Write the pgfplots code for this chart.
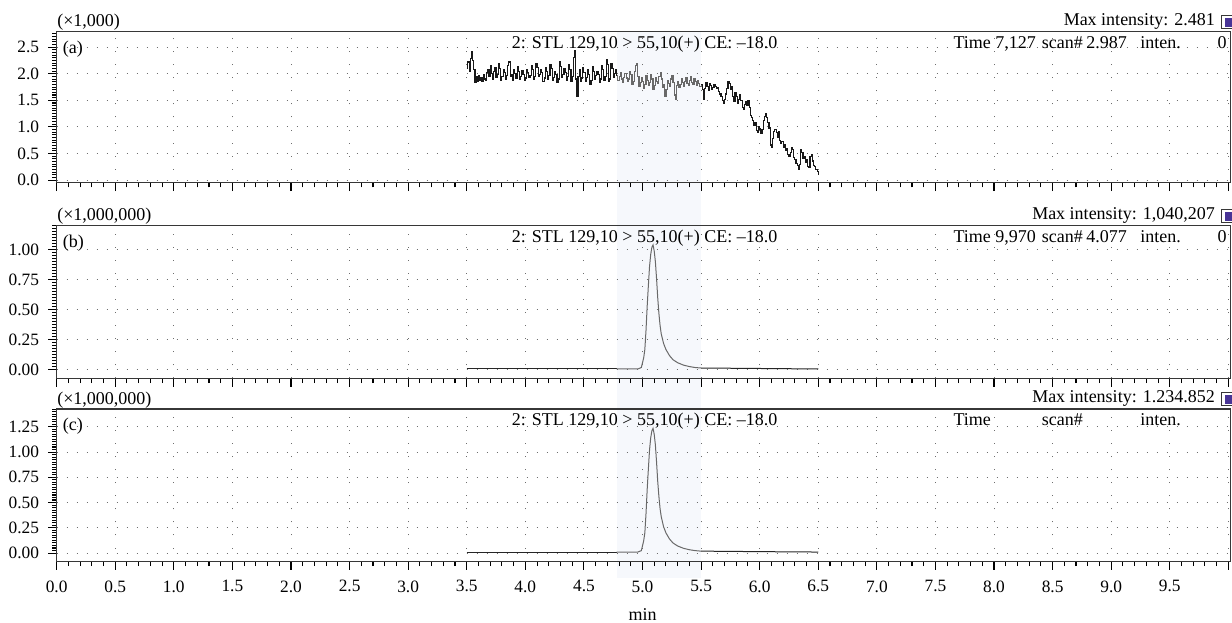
\documentclass[border=0pt]{standalone}
\usepackage{pgfplots}
\pgfplotsset{compat=1.18}
\usepackage{fontspec}
\setmainfont{Liberation Serif}

\definecolor{bandcol}{RGB}{246,248,252}
\definecolor{gridcol}{RGB}{110,110,110}
\definecolor{tracegray}{RGB}{105,105,105}
\definecolor{iconcol}{RGB}{72,52,150}
\definecolor{framecol}{RGB}{55,55,55}

\pgfplotsset{
  chrom/.style={
    scale only axis,
    width=880.5pt,
    anchor=north west,
    xmin=0, xmax=10.02,
    xtick={0,0.5,...,10},
    minor x tick num=4,
    tick align=outside,
    tick pos=left,
    major tick length=6.2pt,
    minor tick length=3.5pt,
    every tick/.style={black, line width=0.8pt},
    axis line style={framecol, line width=0.8pt},
    grid=major,
    x grid style={gridcol, line width=0.7pt, dash pattern=on 0.7pt off 9.1pt},
    y grid style={gridcol, line width=0.7pt, dash pattern=on 0.7pt off 6.8pt},
    tick label style={font=\fontsize{13}{15}\selectfont},
    xticklabel style={yshift=-4.5pt},
    yticklabel style={xshift=-3.5pt},
    xticklabels={},
    /pgf/number format/assume math mode=true,
  },
  tr/.style={black!90, line width=0.85pt},
  trg/.style={tracegray, line width=0.85pt},
  pk/.style={black!85, line width=0.75pt},
  pkg/.style={tracegray, line width=0.75pt},
}

\begin{document}
\begin{tikzpicture}
\useasboundingbox (0,0) rectangle (924pt,-466.5pt);

% highlighted integration window, behind all three panels
\begin{scope}[x=0.75pt, y=-0.75pt]
\fill[bandcol] (616.9,31.7) rectangle (701.3,578);
\end{scope}

% ---------- (a)
\begin{axis}[chrom,
  at={(42.5pt,-23.8pt)}, height=113.25pt,
  ymin=-0.05, ymax=2.79,
  ytick={0,0.5,...,2.5},
  minor ytick={0,0.05,...,2.75},
  yticklabel style={/pgf/number format/.cd, fixed, fixed zerofill, precision=1},
]
\addplot[tr, const plot] table {
x y
3.50 2.10
3.51 2.22
3.52 2.05
3.53 2.28
3.54 2.42
3.55 2.25
3.56 2.08
3.57 1.83
3.58 1.95
3.59 1.86
3.60 1.96
3.61 1.88
3.62 1.92
3.63 1.85
3.64 1.98
3.65 1.90
3.66 1.87
3.67 2.02
3.68 2.08
3.69 1.94
3.70 2.15
3.71 2.00
3.72 1.90
3.73 2.05
3.74 2.12
3.75 1.93
3.76 1.98
3.77 2.20
3.78 2.10
3.79 1.88
3.80 1.95
3.81 2.08
3.82 2.02
3.83 1.90
3.84 1.96
3.85 2.15
3.86 2.22
3.87 1.95
3.88 1.98
3.89 1.88
3.90 2.08
3.91 2.00
3.92 1.92
3.93 2.14
3.94 2.05
3.95 1.90
3.96 1.94
3.97 2.06
3.98 1.98
3.99 1.87
4.00 1.92
4.01 2.08
4.02 2.02
4.03 1.93
4.04 1.97
4.05 2.16
4.06 2.08
4.07 1.90
4.08 1.95
4.09 2.20
4.10 2.12
4.11 1.94
4.12 1.99
4.13 2.07
4.14 2.02
4.15 1.86
4.16 1.92
4.17 2.12
4.18 2.05
4.19 1.90
4.20 1.96
4.21 2.18
4.22 2.10
4.23 1.88
4.24 1.93
4.25 2.05
4.26 1.98
4.27 1.84
4.28 1.90
4.29 2.22
4.30 2.14
4.31 1.93
4.32 1.98
4.33 2.10
4.34 2.03
4.35 1.88
4.36 1.95
4.37 2.18
4.38 2.08
4.39 1.85
4.40 1.95
4.41 2.30
4.42 2.43
4.43 1.90
4.44 1.58
4.45 1.95
4.46 2.08
4.47 1.86
4.48 1.92
4.49 2.12
4.50 2.02
4.51 1.86
4.52 1.93
4.53 2.08
4.54 1.98
4.55 1.80
4.56 1.88
4.57 2.14
4.58 2.05
4.59 1.90
4.60 1.96
4.61 2.04
4.62 1.98
4.63 1.84
4.64 1.90
4.65 2.16
4.66 2.08
4.67 1.88
4.68 1.95
4.69 2.26
4.70 2.18
4.71 1.85
4.72 1.90
4.73 2.20
4.74 2.10
4.75 1.93
4.76 2.00
4.77 2.08
4.78 1.96
};
\addplot[trg, const plot] table {
x y
4.78 1.96
4.79 1.88
4.80 1.95
4.81 2.02
4.82 1.90
4.83 1.84
4.84 1.93
4.85 2.00
4.86 1.92
4.87 1.85
4.88 1.90
4.89 2.04
4.90 1.98
4.91 1.80
4.92 1.86
4.93 2.05
4.94 2.15
4.95 2.20
4.96 1.95
4.97 1.76
4.98 1.84
4.99 1.92
5.00 1.86
5.01 1.72
5.02 1.80
5.03 1.96
5.04 1.88
5.05 1.78
5.06 1.84
5.07 1.98
5.08 1.90
5.09 1.70
5.10 1.78
5.11 1.93
5.12 1.86
5.13 1.82
5.14 1.95
5.15 2.02
5.16 1.90
5.17 1.74
5.18 1.80
5.19 1.57
5.20 1.70
5.21 1.88
5.22 1.82
5.23 1.76
5.24 1.90
5.25 1.96
5.26 1.84
5.27 1.60
5.28 1.52
5.29 1.78
5.30 1.86
5.31 1.74
5.32 1.80
5.33 1.90
5.34 1.84
5.35 1.76
5.36 1.86
5.37 1.93
5.38 1.82
5.39 1.78
5.40 1.88
5.41 1.95
5.42 1.84
5.43 1.80
5.44 1.90
5.45 1.85
5.46 1.78
5.47 1.88
5.48 1.82
5.49 1.76
5.50 1.80
};
\addplot[tr, const plot] table {
x y
5.50 1.80
5.51 1.70
5.52 1.52
5.53 1.72
5.54 1.84
5.55 1.76
5.56 1.68
5.57 1.82
5.58 1.78
5.59 1.70
5.60 1.74
5.61 1.80
5.62 1.76
5.63 1.72
5.64 1.74
5.65 1.66
5.66 1.62
5.67 1.58
5.68 1.50
5.69 1.44
5.70 1.52
5.71 1.62
5.72 1.72
5.73 1.86
5.74 1.82
5.75 1.70
5.76 1.76
5.77 1.58
5.78 1.48
5.79 1.64
5.80 1.58
5.81 1.44
5.82 1.52
5.83 1.60
5.84 1.50
5.85 1.36
5.86 1.32
5.87 1.42
5.88 1.48
5.89 1.40
5.90 1.50
5.91 1.36
5.92 1.22
5.93 1.18
5.94 1.12
5.95 1.02
5.96 1.08
5.97 0.94
5.98 0.90
5.99 1.00
6.00 0.96
6.01 0.88
6.02 0.95
6.03 1.12
6.04 1.20
6.05 1.26
6.06 1.18
6.07 1.08
6.08 0.98
6.09 0.66
6.10 0.62
6.11 0.78
6.12 0.92
6.13 0.95
6.14 0.90
6.15 0.80
6.16 0.92
6.17 0.74
6.18 0.68
6.19 0.72
6.20 0.62
6.21 0.66
6.22 0.56
6.23 0.60
6.24 0.48
6.25 0.44
6.26 0.52
6.27 0.62
6.28 0.58
6.29 0.42
6.30 0.38
6.31 0.32
6.32 0.28
6.33 0.20
6.34 0.30
6.35 0.58
6.36 0.52
6.37 0.40
6.38 0.44
6.39 0.34
6.40 0.38
6.41 0.26
6.42 0.24
6.43 0.44
6.44 0.48
6.45 0.36
6.46 0.28
6.47 0.26
6.48 0.20
6.49 0.16
6.50 0.10
};
\end{axis}

% ---------- (b)
\begin{axis}[chrom,
  at={(42.5pt,-169.3pt)}, height=114.45pt,
  ymin=-0.07, ymax=1.2,
  ytick={0,0.25,...,1.0},
  minor ytick={0,0.025,...,1.2},
  yticklabel style={/pgf/number format/.cd, fixed, fixed zerofill, precision=2},
]
\addplot[pk] table {
x y
3.50 0.008
4.78 0.008
};
\addplot[pkg] table {
x y
4.78 0.008
4.96 0.008
4.99 0.02
5.01 0.10
5.02 0.17
5.03 0.33
5.04 0.53
5.05 0.70
5.06 0.86
5.07 0.96
5.08 1.02
5.09 1.04
5.10 0.99
5.11 0.90
5.12 0.76
5.13 0.60
5.14 0.47
5.15 0.37
5.16 0.30
5.18 0.22
5.20 0.17
5.23 0.12
5.26 0.085
5.30 0.06
5.35 0.04
5.40 0.028
5.45 0.02
5.50 0.016
};
\addplot[pk] table {
x y
5.50 0.016
6.00 0.012
6.50 0.008
};
\end{axis}

% ---------- (c)
\begin{axis}[chrom,
  at={(42.5pt,-306.75pt)}, height=114.4pt,
  ymin=-0.084, ymax=1.426,
  ytick={0,0.25,...,1.25},
  minor ytick={0,0.025,...,1.425},
  xticklabels={0.0,0.5,1.0,1.5,2.0,2.5,3.0,3.5,4.0,4.5,5.0,5.5,6.0,6.5,7.0,7.5,8.0,8.5,9.0,9.5,{}},
  yticklabel style={/pgf/number format/.cd, fixed, fixed zerofill, precision=2},
]
\addplot[pk] table {
x y
3.50 0.010
4.78 0.010
};
\addplot[pkg] table {
x y
4.78 0.010
4.96 0.010
4.99 0.024
5.01 0.12
5.02 0.20
5.03 0.39
5.04 0.63
5.05 0.83
5.06 1.02
5.07 1.14
5.08 1.21
5.09 1.235
5.10 1.175
5.11 1.07
5.12 0.90
5.13 0.71
5.14 0.56
5.15 0.44
5.16 0.36
5.18 0.26
5.20 0.20
5.23 0.14
5.26 0.10
5.30 0.07
5.35 0.047
5.40 0.033
5.45 0.024
5.50 0.019
};
\addplot[pk] table {
x y
5.50 0.019
6.00 0.014
6.50 0.010
};
\end{axis}

% ---------- headers and annotations
\begin{scope}[x=0.75pt, y=-0.75pt, font=\fontsize{13.5}{16}\selectfont,
  every node/.style={inner sep=0pt}]
\foreach \dy/\scl/\mx/\lab in {0/{(×1,000)}/{Max intensity: 2.481}/(a),
                               194/{(×1,000,000)}/{Max intensity: 1,040,207}/(b),
                               377.3/{(×1,000,000)}/{Max intensity: 1.234.852}/(c)} {
  \node[anchor=base west] at (57,26.7+\dy) {\scl};
  \node[anchor=base east] at (1215,25+\dy) {\mx};
  \draw[framecol, line width=0.6pt] (1221.5,15+\dy) rectangle (1236,28.5+\dy);
  \fill[iconcol] (1224.5,18+\dy) rectangle (1236,27+\dy);
  \node[anchor=base west] at (62.7,53.3+\dy) {\lab};
  \node[anchor=base west] at (511.7,48.3+\dy) {2: STL 129,10 > 55,10(+) CE: –18.0};
  \node[anchor=base west] at (1041.7,48.3+\dy) {scan\#};
  \node[anchor=base west] at (1140,48.3+\dy) {inten.};
}
\node[anchor=base west] at (953.3,48.3) {Time 7,127};
\node[anchor=base west] at (1086,48.3) {2.987};
\node[anchor=base east] at (1227,48.3) {0};
\node[anchor=base west] at (953.3,242.3) {Time 9,970};
\node[anchor=base west] at (1086,242.3) {4.077};
\node[anchor=base east] at (1227,242.3) {0};
\node[anchor=base west] at (953.3,425.6) {Time};
\node[anchor=base] at (642.7,620) {min};
\end{scope}
\end{tikzpicture}
\end{document}
